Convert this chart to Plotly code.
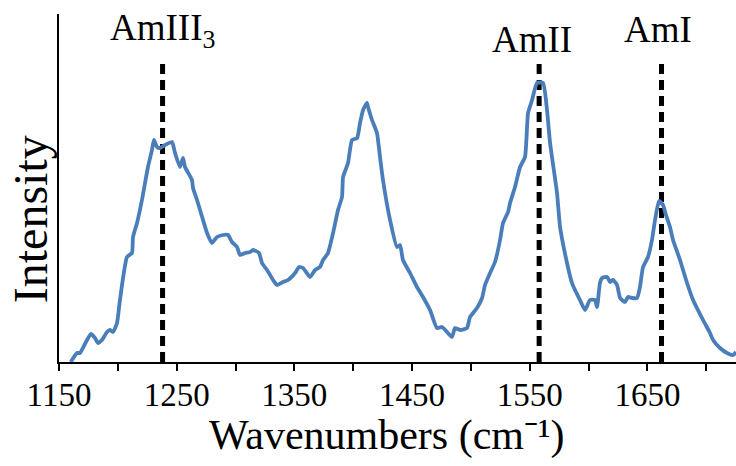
import plotly.graph_objects as go

# Spectrum (wavenumber in cm^-1, intensity in arbitrary units)
wavenumber = [1160, 1165.3, 1167.8, 1173.8, 1177.2, 1180.6, 1183.1, 1186.5, 1190.8, 1193.3,
              1195.9, 1199.3, 1201.8, 1207.8, 1212.0, 1212.9, 1216.3, 1220.5, 1225.6, 1229.0,
              1230.7, 1233.3, 1235.8, 1240.1, 1246.0, 1248.6, 1252.8, 1255.4, 1257.1, 1263.0,
              1263.9, 1267.3, 1272.4, 1275.8, 1280.0, 1284.3, 1289.4, 1293.6, 1297.0, 1301.3,
              1303.8, 1308.1, 1312.3, 1314.9, 1320.0, 1322.5, 1326.8, 1331.9, 1335.3, 1340.4,
              1344.6, 1350.6, 1354.0, 1357.4, 1363.3, 1367.6, 1371.8, 1374.4, 1378.6, 1382.9,
              1387.1, 1390.5, 1391.4, 1395.6, 1399.0, 1403.3, 1405.8, 1408.4, 1411.7, 1412.6,
              1416.0, 1420.2, 1422.8, 1425.3, 1431.3, 1437.2, 1439.8, 1442.3, 1448.3, 1454.2,
              1459.3, 1465.3, 1471.2, 1475.5, 1479.7, 1484.0, 1486.5, 1490.8, 1496.7, 1499.3,
              1505.2, 1509.5, 1512.0, 1516.3, 1520.5, 1524.8, 1527.3, 1531.6, 1533.3, 1537.5,
              1541.8, 1546.0, 1548.6, 1552.0, 1556.2, 1561.3, 1564.7, 1567.3, 1573.2, 1575.8,
              1581.7, 1585.9, 1588.5, 1592.7, 1597.0, 1601.2, 1605.5, 1607.2, 1609.7, 1611.5,
              1615.7, 1618.3, 1620.8, 1624.2, 1626.8, 1631.0, 1633.6, 1637.0, 1641.2, 1643.7,
              1646.3, 1650.5, 1653.9, 1656.5, 1659.9, 1663.3, 1665.8, 1669.2, 1671.8, 1677.7,
              1683.7, 1688.8, 1697.3, 1703.2, 1705.8, 1711.7, 1717.7, 1722.8, 1725.3]
intensity = [0, 9, 9, 22, 28, 24, 19, 22, 30, 32,
             30, 39, 62, 105, 109, 125, 139, 162, 195, 212,
             222, 215, 214, 217, 220, 209, 195, 204, 195, 182,
             174, 162, 142, 129, 119, 125, 127, 127, 120, 115,
             107, 109, 110, 112, 109, 99, 92, 82, 77, 80,
             82, 89, 95, 94, 85, 92, 95, 102, 109, 129,
             152, 165, 185, 199, 222, 224, 239, 252, 259, 255,
             242, 229, 205, 182, 142, 115, 117, 102, 89, 75,
             65, 52, 34, 35, 30, 25, 34, 32, 34, 45,
             54, 64, 77, 89, 100, 122, 139, 150, 159, 175,
             195, 205, 249, 262, 279, 279, 252, 219, 169, 135,
             99, 79, 72, 62, 52, 62, 62, 55, 79, 84,
             85, 80, 82, 77, 64, 60, 65, 64, 64, 75,
             95, 105, 122, 142, 161, 157, 147, 135, 122, 102,
             79, 62, 42, 29, 22, 14, 9, 7, 10]

# Band assignments
band_positions = [1238, 1558, 1662]
band_labels = ["AmIII<sub>3</sub>", "AmII", "AmI"]
band_line_top = 298

# Axis ticks
tick_first = 1150
label_step = 100
tick_step = 50

FONT = "Liberation Serif"
X_RANGE = [1150, 1725.3]
Y_RANGE = [0, 348]

fig = go.Figure()

for pos in band_positions:
    fig.add_trace(go.Scatter(
        x=[pos, pos], y=[0, band_line_top], mode="lines",
        line=dict(color="black", width=5, dash="10px,6px"),
        hoverinfo="skip", showlegend=False))

fig.add_trace(go.Scatter(
    x=wavenumber, y=intensity, mode="lines",
    line=dict(color="#4a7ebb", width=3.8, shape="spline", smoothing=0.5),
    showlegend=False))

label_offsets = [0, -6, -3]
label_y = [306, 300, 310]
for pos, lab, dx, yy in zip(band_positions, band_labels, label_offsets, label_y):
    fig.add_annotation(x=pos + dx, y=yy, xref="x", yref="y", text=lab,
                       showarrow=False, yanchor="bottom", xanchor="center",
                       font=dict(family=FONT, size=37, color="black"))

# Axis titles
fig.add_annotation(x=-0.043, y=0.41, xref="paper", yref="paper",
                   text="Intensity", textangle=-90, showarrow=False,
                   xanchor="center", yanchor="middle",
                   font=dict(family=FONT, size=48, color="black"))
fig.add_annotation(x=0.485, y=-0.212, xref="paper", yref="paper",
                   text="Wavenumbers (cm\u207b\u00b9)", showarrow=False,
                   xanchor="center", yanchor="middle",
                   font=dict(family=FONT, size=42, color="black"))

fig.update_layout(
    width=736, height=466,
    margin=dict(l=59, r=0, t=14, b=104),
    paper_bgcolor="white", plot_bgcolor="white",
    xaxis=dict(range=X_RANGE, tickmode="linear", tick0=tick_first, dtick=label_step,
               ticks="outside", ticklen=7, tickwidth=2, tickcolor="black",
               ticklabelstandoff=-5,
               minor=dict(tickmode="linear", tick0=tick_first, dtick=tick_step,
                          ticks="outside", ticklen=7, tickwidth=2, tickcolor="black",
                          showgrid=False),
               showline=True, linewidth=2, linecolor="black",
               showgrid=False, zeroline=False,
               tickfont=dict(family=FONT, size=33, color="black")),
    xaxis2=dict(range=X_RANGE, overlaying="x", anchor="y", side="bottom",
                tickmode="linear", tick0=tick_first, dtick=tick_step, ticks="inside",
                ticklen=5, tickwidth=2, tickcolor="black",
                showticklabels=False, showline=False, showgrid=False,
                zeroline=False),
    yaxis=dict(range=Y_RANGE, showline=True, linewidth=2, linecolor="black",
               showticklabels=False, ticks="", showgrid=False, zeroline=False),
)

fig.write_html("out.html")
